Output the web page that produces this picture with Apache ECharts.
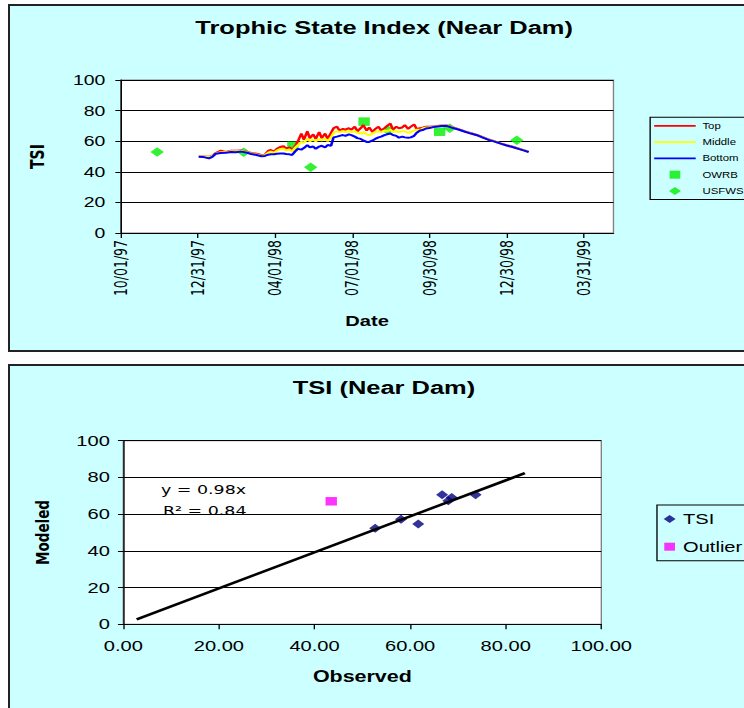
<!DOCTYPE html>
<html>
<head>
<meta charset="utf-8">
<script src="https://cdn.jsdelivr.net/npm/echarts@6/dist/echarts.min.js"></script>
<style>
html, body { margin: 0; padding: 0; width: 744px; height: 708px; overflow: hidden; background: #fff; }
.panel { position: absolute; background: #ccffff; border: 2px solid #222; box-sizing: border-box; }
#p1 { left: 8px; top: 4px; width: 800px; height: 348px; }
#p2 { left: 8px; top: 364px; width: 800px; height: 400px; }
/* the original picture is stretched sideways, so the chart is too */
#chart { position: absolute; left: 0; top: 0; width: 555px; height: 708px; transform: scaleX(1.3405); transform-origin: 0 0; }
</style>
</head>
<body>
<div class="panel" id="p1"></div>
<div class="panel" id="p2"></div>
<div id="chart"></div>
<script>
// daily model output (Top / Middle / Bottom)
const lineDates = [
  '1998-01-01','1998-01-07','1998-01-13','1998-01-17','1998-01-21','1998-01-27','1998-02-02','1998-02-08','1998-02-14','1998-02-20',
  '1998-02-26','1998-03-04','1998-03-10','1998-03-16','1998-03-20','1998-03-24','1998-03-27','1998-03-31','1998-04-03','1998-04-07',
  '1998-04-11','1998-04-14','1998-04-18','1998-04-21','1998-04-25',
  '1998-04-28','1998-05-02','1998-05-05','1998-05-09','1998-05-12','1998-05-16','1998-05-19','1998-05-23','1998-05-26','1998-05-30',
  '1998-06-02','1998-06-06','1998-06-09','1998-06-13','1998-06-16','1998-06-20','1998-06-23','1998-06-27','1998-06-30','1998-07-04',
  '1998-07-07','1998-07-11','1998-07-14','1998-07-18','1998-07-21','1998-07-25','1998-07-28','1998-08-01','1998-08-04','1998-08-08',
  '1998-08-11','1998-08-15','1998-08-18','1998-08-22','1998-08-25','1998-08-29','1998-09-01','1998-09-05','1998-09-08','1998-09-12',
  '1998-09-15','1998-09-19','1998-09-22','1998-09-26','1998-09-30',
  '1998-10-07','1998-10-14','1998-10-21','1998-10-28','1998-11-04','1998-11-11','1998-11-18','1998-11-25','1998-12-02','1998-12-09',
  '1998-12-16','1998-12-23','1998-12-30','1999-01-06','1999-01-13','1999-01-20','1999-01-25'
];
const topTSI = [
  50.0, 50.0, 49.8, 50.5, 52.3, 53.8, 53.0, 53.8, 53.8, 54.0, 53.2, 52.3, 51.8, 51.0, 51.2, 53.8, 54.2, 53.2, 55.0, 56.2,
  56.8, 55.2, 56.0, 54.3, 57.0,
  60.0, 65.0, 61.0, 66.5, 62.0, 64.5, 61.5, 66.0, 62.0, 65.0, 61.5, 65.5, 68.5, 69.5, 67.0, 68.0, 67.5, 68.5, 67.5, 69.5,
  66.5, 68.5, 70.5, 67.0, 69.0, 66.0, 68.0, 69.5, 67.0, 68.5, 70.0, 71.5, 67.5, 69.5, 68.5, 69.0, 70.5, 68.0, 69.5, 71.0,
  68.0, 68.5, 68.8, 69.5, 69.5,
  69.8, 70.3, 70.2, 69.0, 67.7, 66.4, 65.2, 64.1, 62.6, 61.1, 59.9, 58.6, 57.4, 56.4, 55.2, 54.0, 53.0
];
const middleTSI = [
  50.0, 50.0, 49.6, 50.3, 52.0, 52.8, 52.8, 53.5, 53.4, 53.6, 52.9, 52.0, 51.4, 50.6, 50.8, 52.5, 53.2, 52.5, 53.8, 54.8,
  55.0, 54.0, 54.6, 53.2, 56.0,
  57.5, 59.5, 59.0, 61.5, 60.0, 61.0, 60.0, 61.5, 60.5, 61.5, 60.0, 62.5, 65.5, 66.5, 66.0, 66.5, 66.0, 66.5, 66.0, 66.5,
  65.5, 65.0, 66.0, 64.5, 64.0, 65.0, 66.0, 66.5, 66.0, 67.0, 66.5, 67.5, 66.0, 66.5, 66.0, 66.5, 66.5, 65.5, 66.0, 67.0,
  67.5, 67.5, 68.3, 69.0, 69.2,
  69.6, 70.1, 70.0, 68.8, 67.6, 66.3, 65.1, 64.0, 62.5, 61.0, 59.8, 58.5, 57.3, 56.3, 55.1, 53.9, 52.9
];
const bottomTSI = [
  49.8, 49.6, 48.8, 49.8, 51.8, 52.3, 52.4, 53.0, 52.8, 53.2, 52.6, 51.6, 51.0, 50.2, 50.4, 51.2, 51.4, 51.5, 51.8, 51.9,
  52.0, 51.6, 51.4, 51.0, 53.5,
  55.0, 54.5, 55.5, 57.5, 56.0, 56.5, 55.0, 56.5, 57.0, 56.0, 57.5, 57.0, 62.5, 63.0, 63.5, 64.0, 63.5, 64.5, 64.0, 63.0,
  62.0, 61.5, 60.5, 59.5, 59.5, 60.5, 61.5, 62.5, 63.0, 64.0, 64.5, 65.0, 64.0, 63.5, 62.3, 63.0, 62.5, 62.3, 62.5, 63.5,
  65.5, 67.0, 67.3, 68.3, 68.6,
  69.5, 69.9, 69.9, 68.6, 67.5, 66.2, 65.0, 63.9, 62.4, 60.9, 59.7, 58.4, 57.2, 56.2, 55.0, 53.8, 52.8
];
// field samples
const owrbDates = ['1998-04-22', '1998-07-15', '1998-10-12'];
const owrbTSI = [57.0, 72.8, 66.2];
const usfwsDates = ['1997-11-13', '1998-02-23', '1998-05-13', '1998-08-12', '1998-10-24', '1999-01-11'];
const usfwsTSI = [53.0, 52.7, 43.0, 67.3, 68.4, 60.6];
const dateTicks = ['1997-10-01', '1997-12-31', '1998-04-01', '1998-07-01', '1998-09-30', '1998-12-30', '1999-03-31'];
const dateAxisEnd = '1999-05-05';

// observed vs modeled
const observedTSI = [52.7, 58.1, 61.7, 66.7, 68.0, 68.7, 73.7];
const modeledTSI = [52.3, 57.2, 54.6, 70.5, 67.3, 69.1, 70.5];
const outlierObserved = [43.5];
const outlierModeled = [67.0];
const trendSlope = 0.98;
const trendRange = [2.8, 84.0];
const trendR2 = 0.84;

const DAY = 86400000;
const base = Date.UTC(1997, 9, 1);
function toDay(s) {
  const p = s.split('-');
  return Math.round((Date.UTC(+p[0], +p[1] - 1, +p[2]) - base) / DAY);
}
function pad(n) { return (n < 10 ? '0' : '') + n; }
function fmtDay(v) {
  const d = new Date(base + v * DAY);
  return pad(d.getUTCMonth() + 1) + '/' + pad(d.getUTCDate()) + '/' + pad(d.getUTCFullYear() % 100);
}
const tickDays = dateTicks.map(toDay);
const pairs = (xs, ys) => xs.map((x, i) => [x, ys[i]]);

const AR = '"Liberation Sans", Arial, sans-serif';
const DV = '"DejaVu Sans", sans-serif';

// legend icons (paths keep their aspect ratio inside the legend box)
const lineIcon = 'path://M0,0H31V1.8H0Z';
const squareIcon = 'path://M0,0H8V8H0Z';
const diamondIcon = 'path://M5,0L10,4.5L5,9L0,4.5Z';

const chart = echarts.init(document.getElementById('chart'), null, { renderer: 'svg' });
chart.setOption({
  animation: false,
  textStyle: { fontFamily: AR, color: '#000' },
  title: [
    { text: 'Trophic State Index (Near Dam)', left: 145.7, top: 18, padding: 0,
      textStyle: { fontFamily: AR, fontSize: 19, fontWeight: 'bold', color: '#000' } },
    { text: 'TSI (Near Dam)', left: 218.4, top: 378.5, padding: 0,
      textStyle: { fontFamily: AR, fontSize: 19, fontWeight: 'bold', color: '#000' } }
  ],
  legend: [
    {
      data: [
        { name: 'Top', icon: lineIcon },
        { name: 'Middle', icon: lineIcon },
        { name: 'Bottom', icon: lineIcon },
        { name: 'OWRB', icon: squareIcon },
        { name: 'USFWS', icon: diamondIcon }
      ],
      orient: 'vertical', left: 485, top: 117.3,
      itemWidth: 31, itemHeight: 8, itemGap: 7.3, padding: [4, 5, 4, 3],
      borderColor: '#000', borderWidth: 1,
      textStyle: { fontFamily: AR, fontSize: 8.5, color: '#000' }
    },
    {
      data: [
        { name: 'TSI', icon: diamondIcon },
        { name: 'Outlier', icon: squareIcon }
      ],
      orient: 'vertical', left: 490.1, top: 505,
      itemWidth: 10, itemHeight: 8, itemGap: 12.7, padding: [6.5, 5, 6.5, 5],
      borderColor: '#000', borderWidth: 1,
      textStyle: { fontFamily: AR, fontSize: 15, color: '#000' }
    }
  ],
  grid: [
    { left: 90.04, top: 80, width: 367.6, height: 153, show: true, backgroundColor: '#fff', borderColor: '#808080', borderWidth: 1 },
    { left: 91.98, top: 440.7, width: 356.6, height: 183.6, show: true, backgroundColor: '#fff', borderColor: '#808080', borderWidth: 1 }
  ],
  xAxis: [
    {
      gridIndex: 0, type: 'value', min: 0, max: toDay(dateAxisEnd),
      name: 'Date', nameLocation: 'middle', nameGap: 80,
      nameTextStyle: { fontFamily: AR, fontSize: 15, fontWeight: 'bold', color: '#000' },
      axisLine: { onZero: false, lineStyle: { color: '#000', width: 1 } },
      axisTick: { customValues: tickDays, length: 5, lineStyle: { color: '#000' } },
      axisLabel: { customValues: tickDays, rotate: 90, margin: 7, formatter: fmtDay,
        fontFamily: DV, fontSize: 12.5, color: '#000' },
      splitLine: { show: false }
    },
    {
      gridIndex: 1, type: 'value', min: 0, max: 100, interval: 20,
      name: 'Observed', nameLocation: 'middle', nameGap: 44,
      nameTextStyle: { fontFamily: AR, fontSize: 16, fontWeight: 'bold', color: '#000' },
      axisLine: { onZero: false, lineStyle: { color: '#000', width: 1 } },
      axisTick: { length: 5, lineStyle: { color: '#000' } },
      axisLabel: { margin: 14, formatter: v => v.toFixed(2), fontFamily: AR, fontSize: 15, color: '#000' },
      splitLine: { show: false }
    }
  ],
  yAxis: [
    {
      gridIndex: 0, type: 'value', min: 0, max: 100, interval: 20,
      name: 'TSI', nameLocation: 'middle', nameGap: 55, nameRotate: 90,
      nameTextStyle: { fontFamily: DV, fontSize: 14, fontWeight: 'bold', color: '#000' },
      axisLine: { show: true, onZero: false, lineStyle: { color: '#000', width: 1 } },
      axisTick: { show: true, length: 4, lineStyle: { color: '#000' } },
      axisLabel: { margin: 11.5, fontFamily: AR, fontSize: 14.5, color: '#000' },
      splitLine: { lineStyle: { color: '#000', width: 1 } }
    },
    {
      gridIndex: 1, type: 'value', min: 0, max: 100, interval: 20,
      name: 'Modeled', nameLocation: 'middle', nameGap: 53, nameRotate: 90,
      nameTextStyle: { fontFamily: DV, fontSize: 13.5, fontWeight: 'bold', color: '#000' },
      axisLine: { show: true, onZero: false, lineStyle: { color: '#000', width: 1 } },
      axisTick: { show: true, length: 4, lineStyle: { color: '#000' } },
      axisLabel: { margin: 10, fontFamily: AR, fontSize: 15, color: '#000' },
      splitLine: { lineStyle: { color: '#000', width: 1 } }
    }
  ],
  graphic: [
    { type: 'text', left: 120.1, top: 483, silent: true,
      style: { text: 'y = ' + trendSlope.toFixed(2) + 'x', font: '13px "DejaVu Sans"', fill: '#000' } },
    { type: 'text', left: 121.6, top: 504, silent: true,
      style: { text: 'R\u00b2 = ' + trendR2.toFixed(2), font: '13px "DejaVu Sans"', fill: '#000' } }
  ],
  series: [
    { name: 'Top', type: 'line', xAxisIndex: 0, yAxisIndex: 0, symbol: 'none',
      data: pairs(lineDates.map(toDay), topTSI),
      lineStyle: { color: '#ff0000', width: 2 }, itemStyle: { color: '#ff0000' } },
    { name: 'Middle', type: 'line', xAxisIndex: 0, yAxisIndex: 0, symbol: 'none',
      data: pairs(lineDates.map(toDay), middleTSI),
      lineStyle: { color: '#ffff00', width: 2 }, itemStyle: { color: '#ffff00' } },
    { name: 'Bottom', type: 'line', xAxisIndex: 0, yAxisIndex: 0, symbol: 'none',
      data: pairs(lineDates.map(toDay), bottomTSI),
      lineStyle: { color: '#0000ff', width: 2 }, itemStyle: { color: '#0000ff' } },
    { name: 'OWRB', type: 'scatter', xAxisIndex: 0, yAxisIndex: 0, symbol: 'rect', symbolSize: 8.5,
      data: pairs(owrbDates.map(toDay), owrbTSI), itemStyle: { color: '#00ee00' } },
    { name: 'USFWS', type: 'scatter', xAxisIndex: 0, yAxisIndex: 0, symbol: 'diamond', symbolSize: [10, 9.5],
      data: pairs(usfwsDates.map(toDay), usfwsTSI), itemStyle: { color: '#00ee00' } },
    { name: 'Trend', type: 'line', xAxisIndex: 1, yAxisIndex: 1, symbol: 'none', silent: true,
      data: trendRange.map(x => [x, trendSlope * x]),
      lineStyle: { color: '#000', width: 2.5 } },
    { name: 'TSI', type: 'scatter', xAxisIndex: 1, yAxisIndex: 1, symbol: 'diamond', symbolSize: 9,
      data: pairs(observedTSI, modeledTSI), itemStyle: { color: '#000080' } },
    { name: 'Outlier', type: 'scatter', xAxisIndex: 1, yAxisIndex: 1, symbol: 'rect', symbolSize: 8.5,
      data: pairs(outlierObserved, outlierModeled), itemStyle: { color: '#ff00ff' } }
  ]
});
</script>
</body>
</html>
